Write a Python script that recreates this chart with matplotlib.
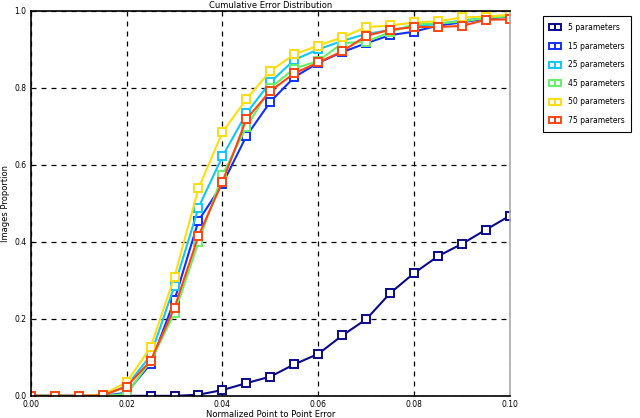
import matplotlib
matplotlib.use("Agg")
import matplotlib.pyplot as plt

# normalized point-to-point error thresholds
err = [0.000, 0.005, 0.010, 0.015, 0.020, 0.025, 0.030, 0.035, 0.040, 0.045,
       0.050, 0.055, 0.060, 0.065, 0.070, 0.075, 0.080, 0.085, 0.090, 0.095,
       0.100]

p5 = [0.0, 0.0, 0.0, 0.0, 0.0, 0.0, 0.0, 0.003, 0.015, 0.033,
      0.05, 0.082, 0.109, 0.157, 0.199, 0.267, 0.319, 0.363, 0.395, 0.432,
      0.468]
p15 = [0.0, 0.0, 0.0, 0.0, 0.008, 0.083, 0.249, 0.455, 0.55, 0.675,
       0.764, 0.828, 0.865, 0.893, 0.916, 0.937, 0.946, 0.962, 0.970, 0.980,
       0.985]
p25 = [0.0, 0.0, 0.0, 0.002, 0.025, 0.105, 0.286, 0.489, 0.622, 0.734,
       0.815, 0.873, 0.900, 0.922, 0.940, 0.950, 0.960, 0.966, 0.975, 0.982,
       0.988]
p45 = [0.0, 0.0, 0.0, 0.0, 0.005, 0.090, 0.215, 0.399, 0.574, 0.698,
       0.800, 0.850, 0.870, 0.916, 0.920, 0.945, 0.965, 0.968, 0.972, 0.982,
       0.986]
p50 = [0.0, 0.0, 0.0, 0.003, 0.035, 0.126, 0.310, 0.539, 0.685, 0.771,
       0.844, 0.887, 0.910, 0.931, 0.958, 0.962, 0.970, 0.973, 0.983, 0.985,
       0.990]
p75 = [0.0, 0.0, 0.0, 0.001, 0.024, 0.091, 0.229, 0.416, 0.556, 0.719,
       0.792, 0.838, 0.866, 0.895, 0.935, 0.951, 0.958, 0.958, 0.961, 0.977,
       0.978]

labels = ["5 parameters", "15 parameters", "25 parameters",
          "45 parameters", "50 parameters", "75 parameters"]
series = [p5, p15, p25, p45, p50, p75]
colors = ["#0a0a8c", "#1030ff", "#10c8f8", "#66f066", "#ffdd10", "#ff4410"]

FS = 5.5

fig = plt.figure(figsize=(6.4, 4.18), dpi=100)
ax = fig.add_axes([0.048, 0.053, 0.749, 0.921])

for y, lab, c in zip(series, labels, colors):
    ax.plot(err, y, color=c, lw=1.5, marker="s", ms=6, mfc="white",
            mec=c, mew=1.4, label=lab)

ax.set_xlim(0, 0.1)
ax.set_ylim(0, 1.0)
ax.set_xticks([0.0, 0.02, 0.04, 0.06, 0.08, 0.10])
ax.set_xticklabels(["0.00", "0.02", "0.04", "0.06", "0.08", "0.10"])
ax.set_yticks([0.0, 0.2, 0.4, 0.6, 0.8, 1.0])
ax.set_yticklabels(["0.0", "0.2", "0.4", "0.6", "0.8", "1.0"])
ax.tick_params(labelsize=FS, length=0, pad=3)
ax.grid(True, color="black", ls=(0, (4, 4)), lw=0.9)
for sp in ax.spines.values():
    sp.set_linewidth(1.2)
ax.spines["right"].set_color("#aaaaaa")

ax.set_title("Cumulative Error Distribution", fontsize=FS + 0.5, pad=2)
ax.set_xlabel("Normalized Point to Point Error", fontsize=FS + 0.5,
              labelpad=1)
ax.set_ylabel("Images Proportion", fontsize=FS + 0.5, labelpad=3)

leg = ax.legend(loc="upper left", bbox_to_anchor=(1.069, 0.986),
                fontsize=FS, numpoints=2, handlelength=1.4,
                fancybox=False, framealpha=1, edgecolor="black",
                borderpad=0.9, labelspacing=1.25, handletextpad=0.9,
                borderaxespad=0)
leg.get_frame().set_linewidth(0.8)
for h in leg.legend_handles:
    h.set_markersize(5)

fig.savefig("out.png", dpi=100)
